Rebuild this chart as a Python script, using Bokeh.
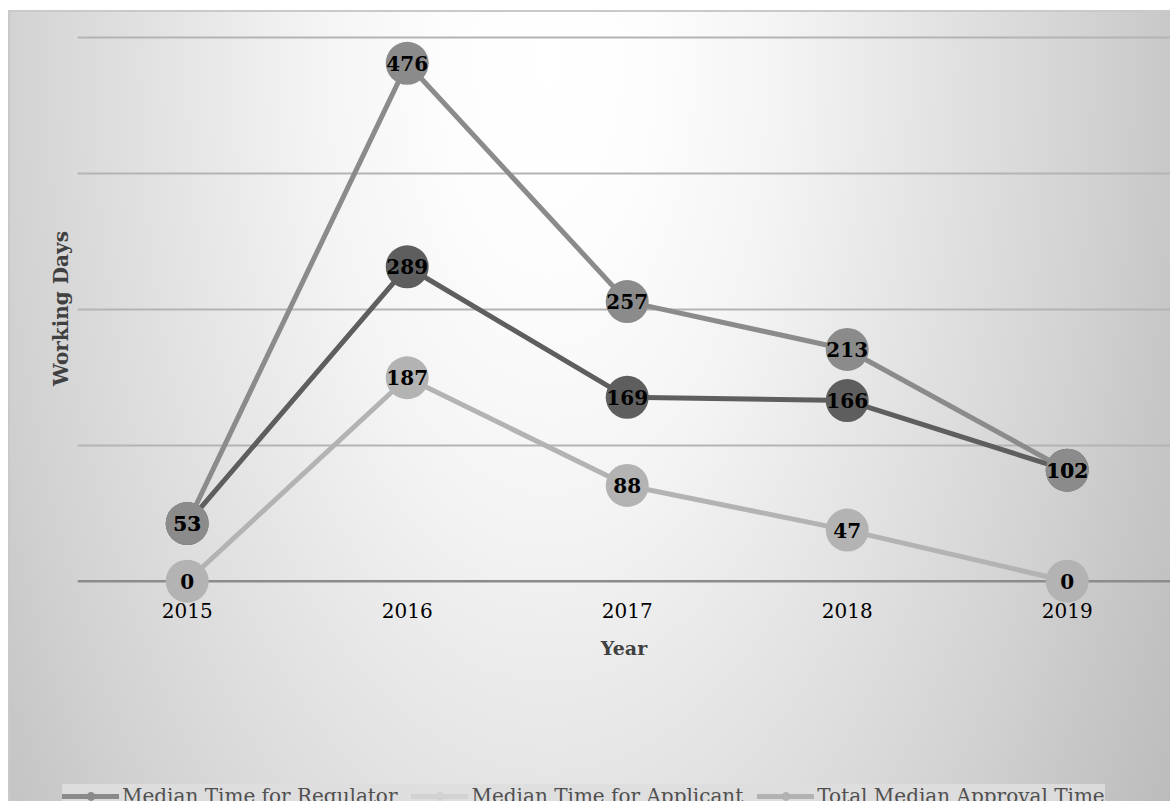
from bokeh.plotting import figure
from bokeh.layouts import column
from bokeh.models import (ColumnDataSource, FixedTicker, Span, Legend, LegendItem,
                          Range1d)
from bokeh.core.properties import value
from bokeh.embed import file_html
from bokeh.resources import INLINE

# --- data -----------------------------------------------------------------
years = [2015, 2016, 2017, 2018, 2019]
regulator = [53, 289, 169, 166, 102]
applicant = [0, 187, 88, 47, 0]
total = [53, 476, 257, 213, 102]
grid_values = [125, 250, 375, 500]

series_names = ["Median Time for Regulator", "Median Time for Applicant",
                "Total Median Approval Time"]

SERIF = "DejaVu Serif"
W, H_MAIN, H_KEY = 1170, 777, 24

# --- main chart -----------------------------------------------------------
p = figure(width=W, height=H_MAIN, output_backend="svg", toolbar_location=None,
           x_range=(2014.5014, 2019.4695), y_range=(-21.4, 522.7),
           min_border_left=77, min_border_right=0, min_border_top=12,
           min_border_bottom=H_MAIN - 604)
p.background_fill_color = None
p.border_fill_color = None
p.outline_line_color = None
p.frame_align = False

# axes
p.xaxis.ticker = FixedTicker(ticks=years)
p.xaxis.major_label_text_font = SERIF
p.xaxis.major_label_text_font_size = "20px"
p.xaxis.major_label_text_color = "#000000"
p.xaxis.major_label_standoff = -2
p.xaxis.major_tick_out = 0
p.xaxis.major_tick_in = 0
p.xaxis.minor_tick_out = 0
p.xaxis.minor_tick_in = 0
p.xaxis.axis_line_color = None
p.xaxis.axis_label = "Year"
p.xaxis.axis_label_text_font = SERIF
p.xaxis.axis_label_text_font_style = "bold"
p.xaxis.axis_label_text_font_size = "19px"
p.xaxis.axis_label_text_color = "#404040"
p.xaxis.axis_label_standoff = 16

p.yaxis.ticker = FixedTicker(ticks=[])
p.yaxis.major_tick_out = 0
p.yaxis.major_tick_in = 0
p.yaxis.minor_tick_out = 0
p.yaxis.minor_tick_in = 0
p.yaxis.axis_line_color = None
p.yaxis.axis_label = "Working Days"
p.yaxis.axis_label_text_font = SERIF
p.yaxis.axis_label_text_font_style = "bold"
p.yaxis.axis_label_text_font_size = "20px"
p.yaxis.axis_label_text_color = "#404040"
p.yaxis.axis_label_standoff = 5

# grid
p.xgrid.grid_line_color = None
p.ygrid.ticker = FixedTicker(ticks=grid_values)
p.ygrid.grid_line_color = "#b4b4b4"
p.ygrid.grid_line_width = 2
zero_line = Span(location=0, dimension="width", line_color="#8c8c8c",
                 line_width=2.5, level="underlay")
p.add_layout(zero_line)

# --- series ---------------------------------------------------------------
plot_colors = ["#5e5e5e", "#b3b3b3", "#8b8b8b"]
legend_colors = ["#8a8a8a", "#d2d2d2", "#b2b2b2"]
series_values = [regulator, applicant, total]

for vals, col in zip(series_values, plot_colors):
    src = ColumnDataSource(dict(x=years, y=vals))
    p.line("x", "y", source=src, line_color=col, line_width=5,
           line_join="round", line_cap="round")
    p.scatter("x", "y", source=src, size=43, fill_color=col, line_color=None)

for vals in series_values:
    src = ColumnDataSource(dict(x=years, y=vals, t=[str(v) for v in vals]))
    p.text("x", "y", text="t", source=src, text_font=value(SERIF),
           text_font_style="bold", text_font_size="20px", text_color="#000000",
           text_align="center", text_baseline="middle")

# --- legend strip (runs off the bottom edge of the page) -------------------
k = figure(width=W, height=H_KEY, output_backend="svg", toolbar_location=None,
           x_axis_location=None, y_axis_location=None,
           x_range=Range1d(0, 1), y_range=Range1d(0, 1),
           min_border_left=0, min_border_right=0, min_border_top=0,
           min_border_bottom=0)
k.background_fill_color = None
k.border_fill_color = None
k.outline_line_color = None
k.grid.grid_line_color = None
k.frame_align = False

# key renderers sit outside the strip's ranges; only their legend keys show
items = []
for name, col in zip(series_names, legend_colors):
    off = ColumnDataSource(dict(x=[5, 6], y=[5, 5]))
    lr = k.line("x", "y", source=off, line_color=col, line_width=5,
                line_cap="round")
    sr = k.scatter("x", "y", source=off, fill_color=col, line_color=None)
    items.append(LegendItem(label=name, renderers=[lr, sr]))

legend = Legend(items=items, orientation="horizontal", location=(62, -7),
                glyph_width=57, glyph_height=22, label_height=22,
                label_standoff=3, spacing=14, padding=10, margin=0,
                label_text_font=SERIF, label_text_font_size="20px",
                label_text_color="#505050",
                background_fill_color="#dedede", background_fill_alpha=0.9,
                border_line_color=None)
k.add_layout(legend, "center")

layout = column(p, k, spacing=0)
# chart-area fill: soft radial shading with a thin grey frame on top/left
layout.styles = {
    "background": (
        "linear-gradient(#c9c9c9,#c9c9c9) 8px 10px / 1162px 2px no-repeat, "
        "linear-gradient(#c9c9c9,#c9c9c9) 8px 10px / 2px 791px no-repeat, "
        "radial-gradient(ellipse 660px 1300px at 540px 50px, "
        "#ffffff 0%, #fdfdfd 15%, #f4f4f4 35%, #e7e7e7 53%, #dbdbdb 70%, "
        "#d0d0d0 85%, #c9c9c9 93%, #bcbcbc 110%) 8px 10px / 1162px 791px no-repeat, "
        "#ffffff"
    )
}

open("out.html", "w").write(file_html(layout, INLINE))
